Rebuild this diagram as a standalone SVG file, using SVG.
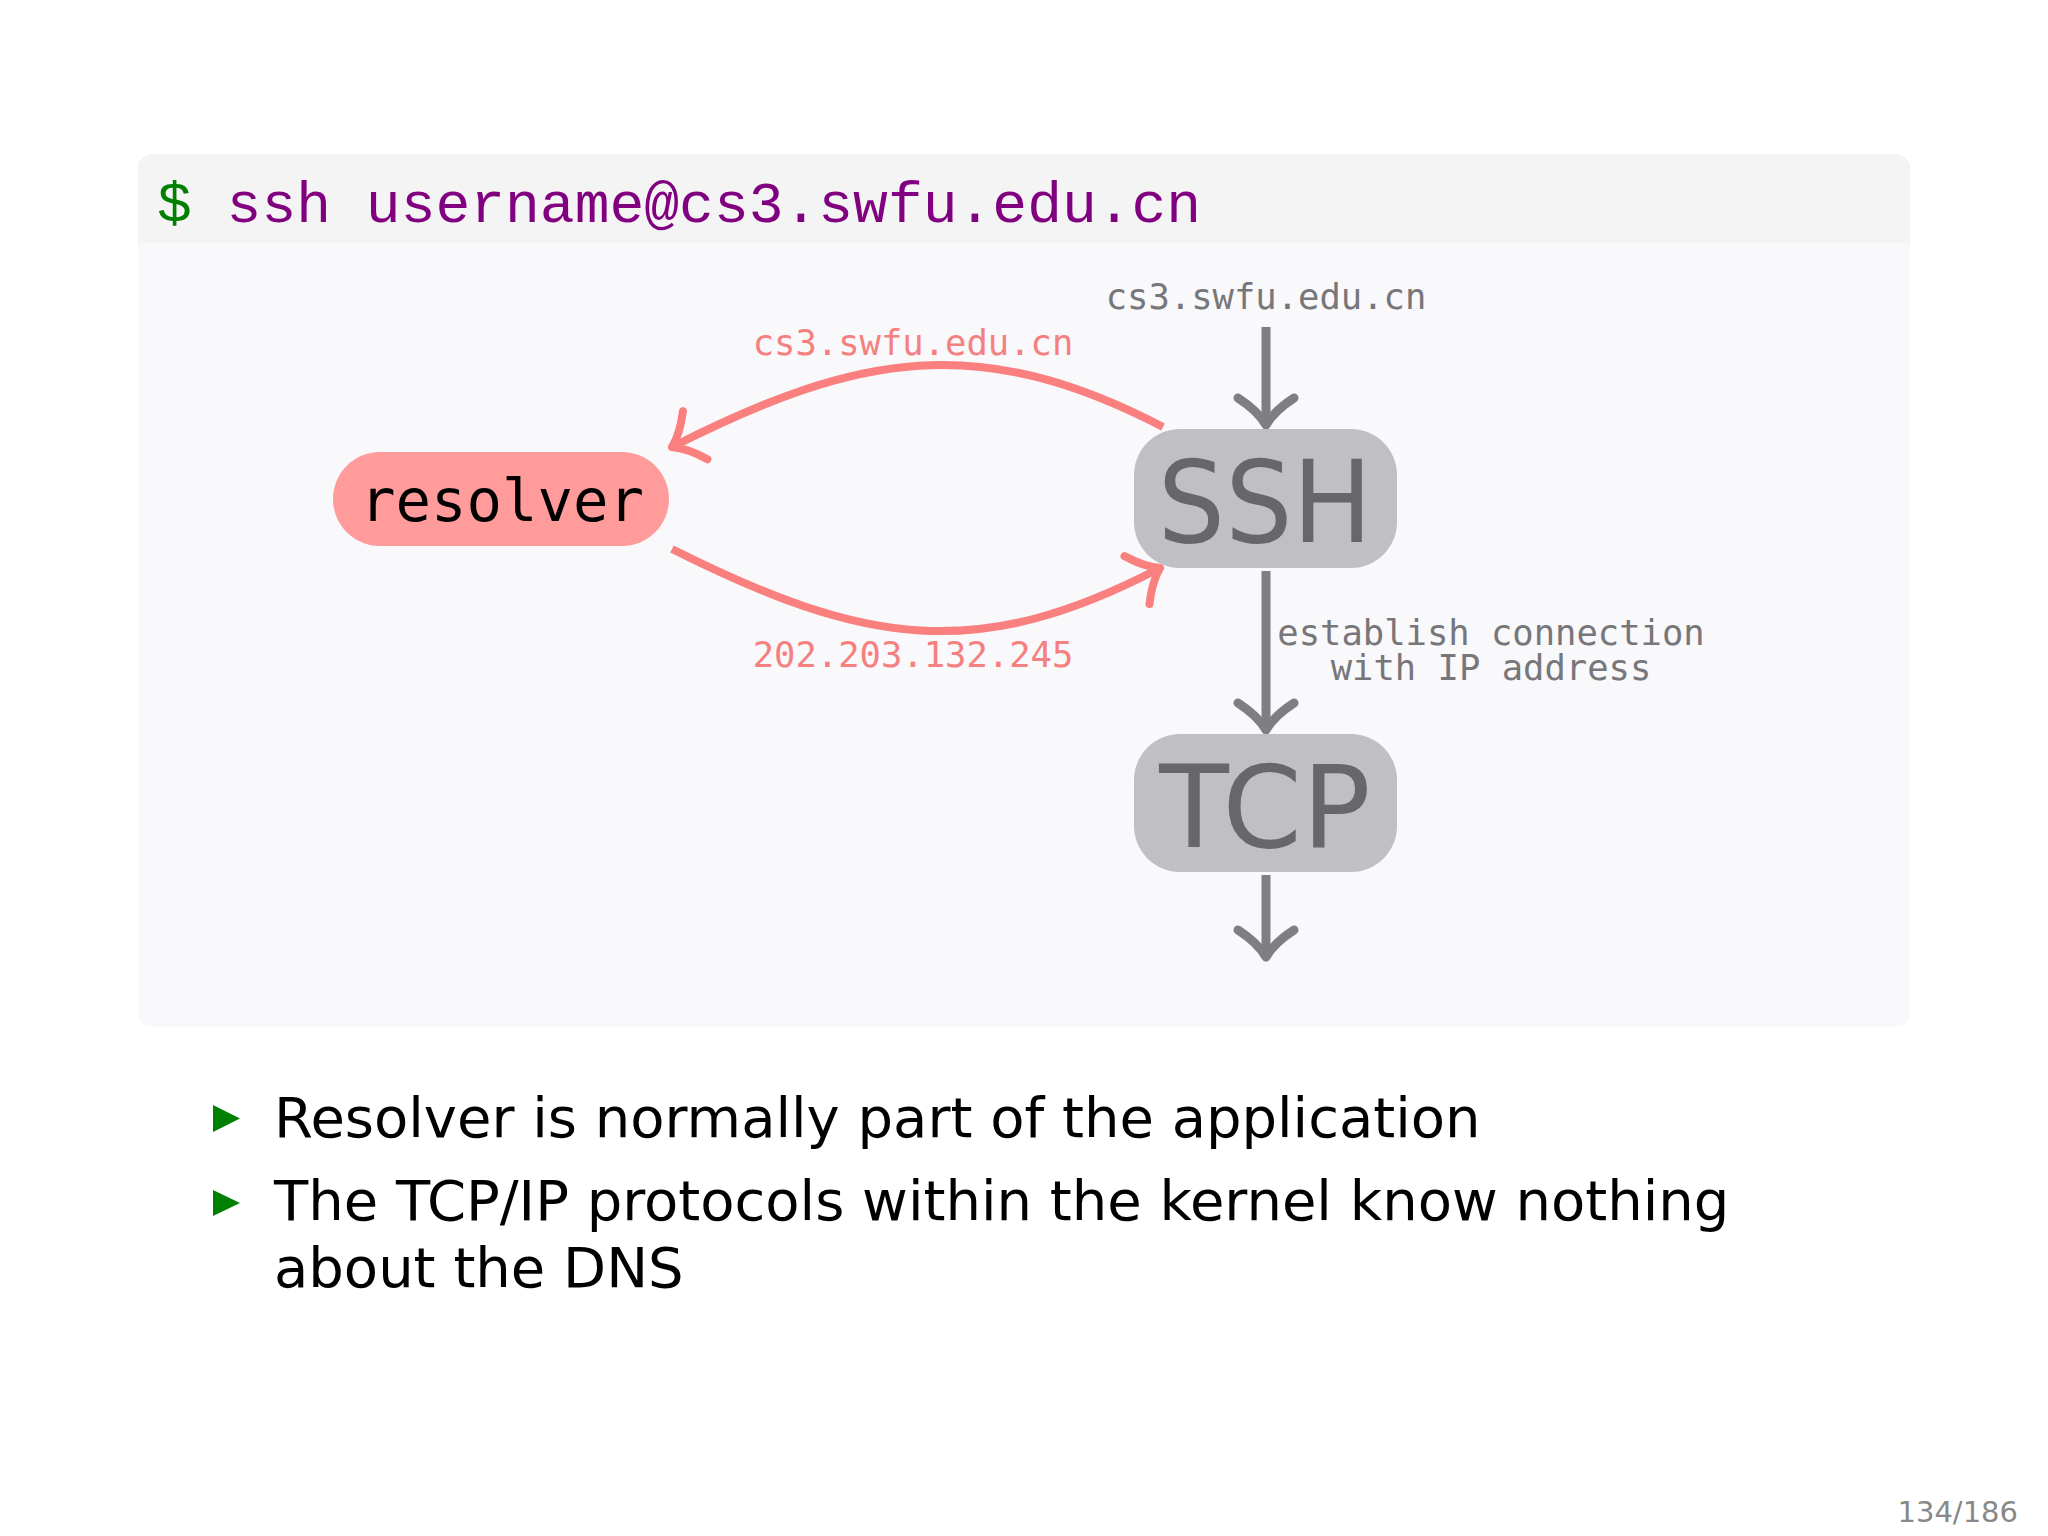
<svg xmlns="http://www.w3.org/2000/svg" width="2048" height="1536" viewBox="0 0 2048 1536">
  <style>
    .mono { font-family: "DejaVu Sans Mono", "Liberation Mono", monospace; }
    .sans { font-family: "DejaVu Sans", "Liberation Sans", sans-serif; }
    .glabel { fill: #77767a; font-size: 35.5px; }
    .rlabel { fill: #f58080; font-size: 35.5px; }
    .gbox { fill: #c0bfc3; }
    .gtext { fill: #67666a; font-size: 114px; }
    .garrow { stroke: #7f7e82; stroke-width: 9; fill: none; }
    .rarrow { stroke: #fa7f7f; stroke-width: 8; fill: none; }
    .bullet { fill: #008000; }
    .btext { fill: #000000; font-size: 56px; }
  </style>
  <defs>
    <marker id="ah-grey" markerUnits="userSpaceOnUse" orient="auto" refX="0" refY="0" markerWidth="1" markerHeight="1" overflow="visible">
      <path d="M -27 -28 Q -14 -8 0 0 M -27 28 Q -14 8 0 0" fill="none" stroke="#7f7e82" stroke-width="9" stroke-linecap="round" stroke-linejoin="round"/>
    </marker>
    <marker id="ah-red" markerUnits="userSpaceOnUse" orient="auto" refX="0" refY="0" markerWidth="1" markerHeight="1" overflow="visible">
      <path d="M -26 -27 Q -13 -8 0 0 M -26 27 Q -13 8 0 0" fill="none" stroke="#fa7f7f" stroke-width="8" stroke-linecap="round" stroke-linejoin="round"/>
    </marker>
  </defs>

  <rect x="0" y="0" width="2048" height="1536" fill="#ffffff"/>

  <g id="code-box">
    <rect x="138" y="154" width="1772" height="873" rx="14" ry="14" fill="#f9f8fa"/>
    <path d="M 152 154 H 1896 A 14 14 0 0 1 1910 168 V 243 H 138 V 168 A 14 14 0 0 1 152 154 Z" fill="#f4f4f4"/>
    <text x="157" y="222" font-family="Liberation Mono, monospace" font-size="58"><tspan fill="#008000">$</tspan><tspan fill="#800080"> ssh username@cs3.swfu.edu.cn</tspan></text>
  </g>

  <g id="connectors">
    <path class="garrow" d="M 1266 327 L 1266 425" marker-end="url(#ah-grey)"/>
    <path class="garrow" d="M 1266 571 L 1266 730" marker-end="url(#ah-grey)"/>
    <path class="garrow" d="M 1266 875 L 1266 957" marker-end="url(#ah-grey)"/>
    <path class="rarrow" d="M 1163 427 C 980 332 859 352 672 447" marker-end="url(#ah-red)"/>
    <path class="rarrow" d="M 672 549 C 865 646 978 663 1160 568" marker-end="url(#ah-red)"/>
  </g>

  <g id="labels">
    <text class="mono glabel" x="1266" y="309" text-anchor="middle">cs3.swfu.edu.cn</text>
    <text class="mono rlabel" x="913" y="355" text-anchor="middle">cs3.swfu.edu.cn</text>
    <text class="mono rlabel" x="913" y="667" text-anchor="middle">202.203.132.245</text>
    <text class="mono glabel" x="1491" y="645" text-anchor="middle">establish connection</text>
    <text class="mono glabel" x="1491" y="680" text-anchor="middle">with IP address</text>
  </g>

  <g id="resolver">
    <rect x="333" y="452" width="336" height="94" rx="47" ry="47" fill="#ff9b9b"/>
    <text class="mono" x="502" y="521" text-anchor="middle" font-size="59" fill="#000000">resolver</text>
  </g>

  <g id="ssh">
    <rect class="gbox" x="1134" y="429" width="263" height="139" rx="46" ry="46"/>
    <text class="sans gtext" x="0" y="0" text-anchor="middle" transform="translate(1265,542) scale(0.93,1)">SSH</text>
  </g>

  <g id="tcp">
    <rect class="gbox" x="1134" y="734" width="263" height="138" rx="46" ry="46"/>
    <text class="sans gtext" x="1265" y="847" text-anchor="middle">TCP</text>
  </g>

  <g id="bullets">
    <polygon class="bullet" points="213,1105 240,1118.5 213,1132"/>
    <text class="sans btext" x="274" y="1137">Resolver is normally part of the application</text>
    <polygon class="bullet" points="213,1190 240,1203 213,1216"/>
    <text class="sans btext" x="274" y="1220">The TCP/IP protocols within the kernel know nothing</text>
    <text class="sans btext" x="274" y="1287">about the DNS</text>
  </g>

  <text class="sans" x="2018" y="1522" text-anchor="end" font-size="29" fill="#888888">134/186</text>
</svg>
